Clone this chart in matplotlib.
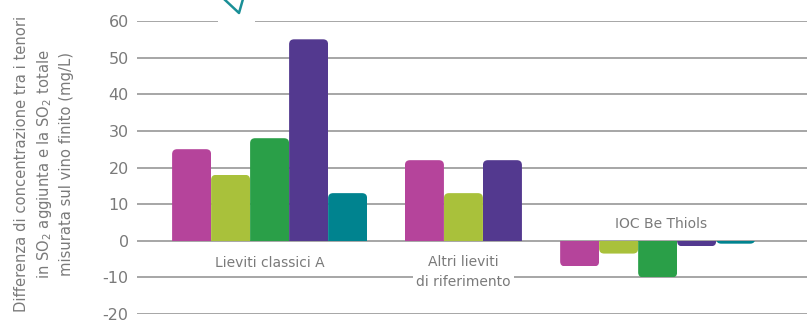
import numpy as np
import matplotlib
matplotlib.use("Agg")
import matplotlib.pyplot as plt
from matplotlib.patches import FancyBboxPatch, Rectangle
from matplotlib.lines import Line2D

# ---- data ----
groups = ["Lieviti classici A", "Altri lieviti\ndi riferimento", "IOC Be Thiols"]
series_colors = ["#b5449b", "#a9c13b", "#2a9f48", "#53398f", "#00838f"]
# values per group, per series (None = no bar)
vals_classici = [25, 18, 28, 55, 13]
vals_altri = [22, 13, None, 22, None]
vals_ioc = [-7, -3.5, -10, -1.5, -0.8]
yticks = [-20, -10, 0, 10, 20, 30, 40, 50, 60]
ylabel = ("Differenza di concentrazione tra i tenori\n"
          "in SO$_2$ aggiunta e la SO$_2$ totale\n"
          "misurata sul vino finito (mg/L)")

W, H = 807, 322
fig = plt.figure(figsize=(W / 100, H / 100), dpi=100)
ax_left = 137 / W
ax_bottom = (H - 314) / H
ax_top = (H - 21) / H
ax = fig.add_axes([ax_left, ax_bottom, 1 - ax_left, ax_top - ax_bottom])

# x axis in units of bar width
bw = 1.0
group_starts = [0.9, 6.87, 10.85]
xmax = (W - 137) / 39.0
ax.set_xlim(0, xmax)
ax.set_ylim(-20, 60)

grid_col = "#a6a6a6"
for t in yticks:
    ax.axhline(t, color=grid_col, lw=1.4, zorder=1)

# rounding
px_per_x = 39.0
px_per_y = (314 - 21) / 80.0
r_px = 5.0
r_x = r_px / px_per_x
asp = (r_px / px_per_y) / r_x

all_vals = [vals_classici, vals_altri, vals_ioc]
for gs, gvals in zip(group_starts, all_vals):
    k = 0
    for ci, v in enumerate(gvals):
        if v is None:
            continue
        x0 = gs + k * bw
        k += 1
        ext = r_px / px_per_y
        if v >= 0:
            y0, hh = -ext, v + ext
            clip = Rectangle((x0, 0), bw, v, transform=ax.transData)
        else:
            y0, hh = v, -v + ext
            clip = Rectangle((x0, v), bw, -v, transform=ax.transData)
        p = FancyBboxPatch((x0, y0), bw, hh,
                           boxstyle=f"round,pad=0,rounding_size={r_x}",
                           mutation_aspect=asp, fc=series_colors[ci],
                           ec="none", zorder=3)
        ax.add_patch(p)
        p.set_clip_path(clip)

txt_col = "#7a7a7a"
font = "DejaVu Sans"
# group labels
ax.text(group_starts[0] + 2.5, -6, groups[0], ha="center", va="center",
        fontsize=10, color=txt_col, family=font, zorder=5)
ax.text(group_starts[1] + 1.5, -8.5, groups[1], ha="center", va="center",
        fontsize=10, color=txt_col, family=font, zorder=5, linespacing=1.5,
        bbox=dict(fc="white", ec="none", pad=2))
ax.text(group_starts[2] + 2.6, 4.5, groups[2], ha="center", va="center",
        fontsize=10, color=txt_col, family=font, zorder=5)

ax.set_yticks(yticks)
ax.set_yticklabels([str(t) for t in yticks], fontsize=11.5, color=txt_col,
                   family=font)
ax.tick_params(axis="y", length=0, pad=6)
ax.set_xticks([])
for s in ax.spines.values():
    s.set_visible(False)

fig.text(44 / W, 0.49, ylabel, rotation=90, ha="center", va="center",
         multialignment="center", fontsize=10.6, color=txt_col, family=font,
         linespacing=1.45)

# decoration at top: gap in top gridline and teal arrow tip
fig.patches.append(Rectangle((218 / W, (H - 27) / H), 37 / W, 12 / H,
                             transform=fig.transFigure, fc="white",
                             ec="none", zorder=10))
fig.lines.append(Line2D([224 / W, 239 / W, 243 / W],
                        [(H + 1) / H, (H - 13) / H, (H + 1) / H],
                        transform=fig.transFigure, color="#1a8f97", lw=1.8,
                        zorder=11))

fig.savefig("out.png", dpi=100)
